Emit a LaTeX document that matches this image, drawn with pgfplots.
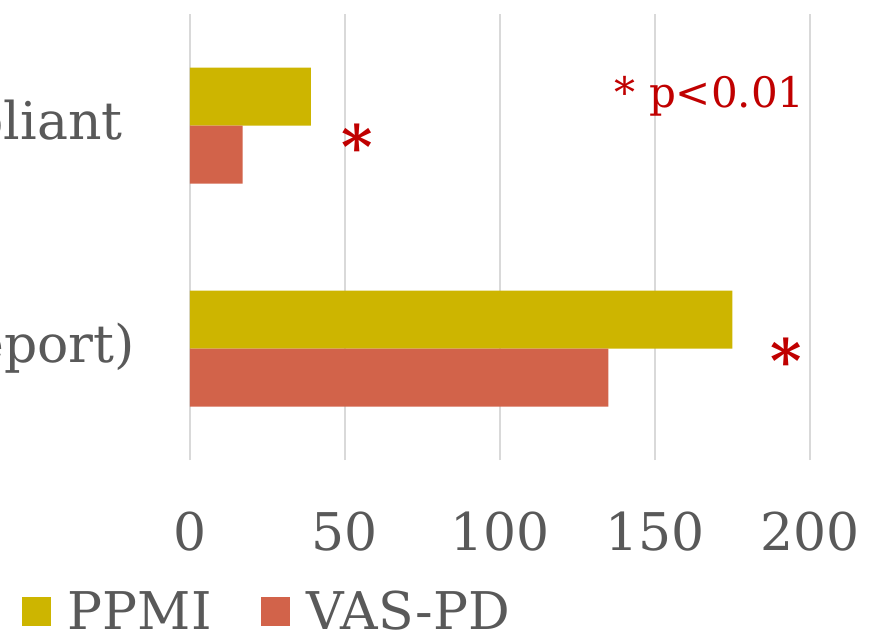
\documentclass[border=0pt]{standalone}
\usepackage{fontspec}
\setmainfont{DejaVu Serif}
\usepackage{pgfplots}
\pgfplotsset{compat=1.18}
\definecolor{ppmi}{RGB}{205,181,0}
\definecolor{vas}{RGB}{210,99,74}
\definecolor{redtxt}{RGB}{192,0,0}
\definecolor{textgray}{RGB}{89,89,89}
\definecolor{gridgray}{RGB}{217,217,217}
\begin{document}
\begin{tikzpicture}
\useasboundingbox (-95pt,-87pt) rectangle (339.5pt,230pt);
\clip (-95pt,-87pt) rectangle (339.5pt,230pt);
\begin{axis}[
  name=ax, at={(0,0)}, anchor=south west,
  scale only axis, width=310pt, height=223pt,
  xbar, bar width=29pt,
  xmin=0, xmax=200, ymin=-0.5, ymax=1.5,
  xtick={0,50,100,150,200},
  ytick={0,1}, yticklabels={(self-report), Compliant\hspace*{6pt}},
  xmajorgrids, grid style={line width=0.75pt, color=gridgray},
  axis line style={draw=none},
  major tick length=0pt,
  tick label style={font=\fontsize{26}{30}\selectfont, text=textgray},
  /pgf/number format/assume math mode=true,
  xticklabel style={anchor=base, yshift=-45pt},
  yticklabel style={anchor=east, inner sep=0pt, xshift=-27.5pt},
  legend style={at={(-0.271,-0.340)}, anchor=west, draw=none, fill=none,
    inner sep=0pt, outer sep=0pt, legend columns=2,
    font=\fontsize{26}{30}\selectfont, text=textgray,
    nodes={inner sep=0pt},
    /tikz/every odd column/.append style={column sep=8.5pt},
    /tikz/every even column/.append style={column sep=24.5pt}},
  legend image code/.code={\fill[#1] (0pt,-7.25pt) rectangle (14.5pt,7.25pt);},
  clip=false,
]
\addplot[fill=ppmi, draw=none, bar shift=14.5pt] coordinates {(175,0) (39,1)};
\addplot[fill=vas, draw=none, bar shift=-14.5pt] coordinates {(135,0) (17,1)};
\legend{PPMI, VAS-PD}
\node[anchor=base, inner sep=0pt, text=redtxt, font=\fontsize{30}{32}\selectfont\bfseries] at (axis cs:53.8,0.808) {*};
\node[anchor=base, inner sep=0pt, text=redtxt, font=\fontsize{30}{32}\selectfont\bfseries] at (axis cs:192.2,-0.152) {*};
\node[anchor=base east, inner sep=0pt, text=redtxt, font=\fontsize{21}{24}\selectfont] at (axis cs:198.4,1.08) {* p<0.01};
\end{axis}
\end{tikzpicture}
\end{document}
